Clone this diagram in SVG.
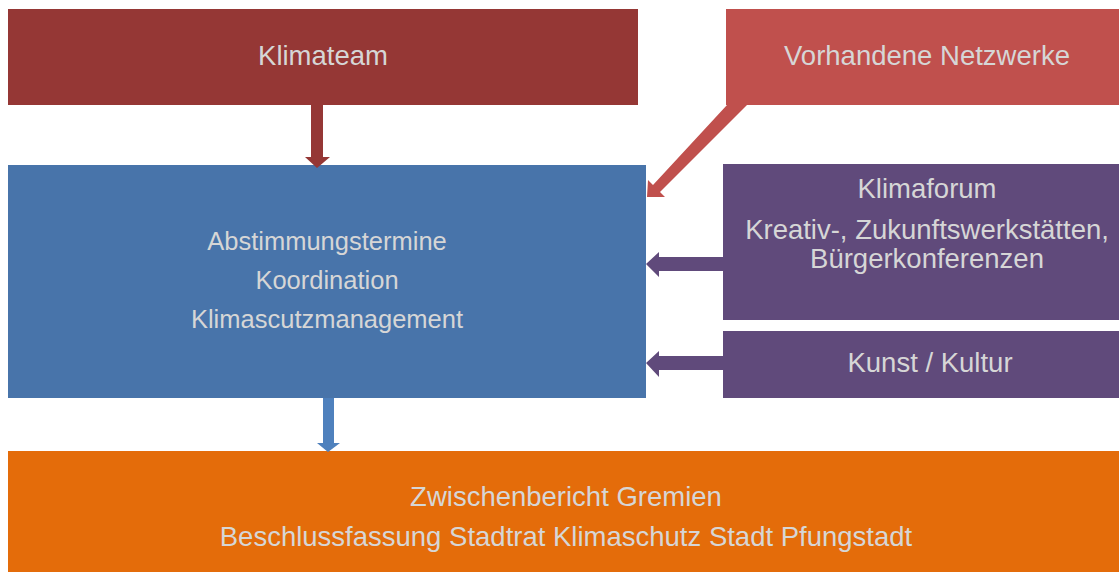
<svg xmlns="http://www.w3.org/2000/svg" width="1119" height="572" viewBox="0 0 1119 572">
  <style>
    text { font-family: "Liberation Sans", Arial, sans-serif; font-size: 27.5px; fill: #d6d6d6; text-anchor: middle; }
    .small { font-size: 25.5px; }
  </style>
  <rect width="1119" height="572" fill="#ffffff"/>

  <g id="klimateam">
    <rect x="8" y="9" width="630" height="96" fill="#953735"/>
    <text x="323" y="65">Klimateam</text>
  </g>

  <g id="netzwerke">
    <rect x="726" y="9" width="393" height="96" fill="#c0504d"/>
    <text x="927" y="65">Vorhandene Netzwerke</text>
  </g>

  <g id="koordination">
    <rect x="8" y="165" width="638" height="233" fill="#4874aa"/>
    <text class="small" x="327" y="250">Abstimmungstermine</text>
    <text class="small" x="327" y="289">Koordination</text>
    <text class="small" x="327" y="328">Klimascutzmanagement</text>
  </g>

  <g id="klimaforum">
    <rect x="723" y="164" width="396" height="156" fill="#604a7b"/>
    <text x="927" y="198">Klimaforum</text>
    <text x="927" y="239">Kreativ-, Zukunftswerkstätten,</text>
    <text x="927" y="268">Bürgerkonferenzen</text>
  </g>

  <g id="kunst">
    <rect x="723" y="331" width="396" height="67" fill="#604a7b"/>
    <text x="930" y="372">Kunst / Kultur</text>
  </g>

  <g id="gremien">
    <rect x="8" y="451" width="1111" height="121" fill="#e46c0a"/>
    <text x="566" y="506">Zwischenbericht Gremien</text>
    <text x="566" y="546">Beschlussfassung Stadtrat Klimaschutz Stadt Pfungstadt</text>
  </g>

  <g id="connectors">
    <!-- Klimateam down to coordination box -->
    <polygon points="311,105 323,105 323,157 330,157 317,168 305,157 311,157" fill="#953735"/>
    <!-- existing networks diagonal into coordination box -->
    <polygon points="727,105 747,105 660,192 665,197 647,197 648,180 653,185" fill="#c0504d"/>
    <!-- Klimaforum to coordination box -->
    <polygon points="723,257 723,271 659,271 659,277 646,264 659,252 659,257" fill="#604a7b"/>
    <!-- Kunst / Kultur to coordination box -->
    <polygon points="723,356 723,370 659,370 659,377 646,363 659,351 659,356" fill="#604a7b"/>
    <!-- coordination box down to reports -->
    <polygon points="323,398 334,398 334,443 340,443 328,452 317,443 323,443" fill="#4f81bd"/>
  </g>
</svg>
